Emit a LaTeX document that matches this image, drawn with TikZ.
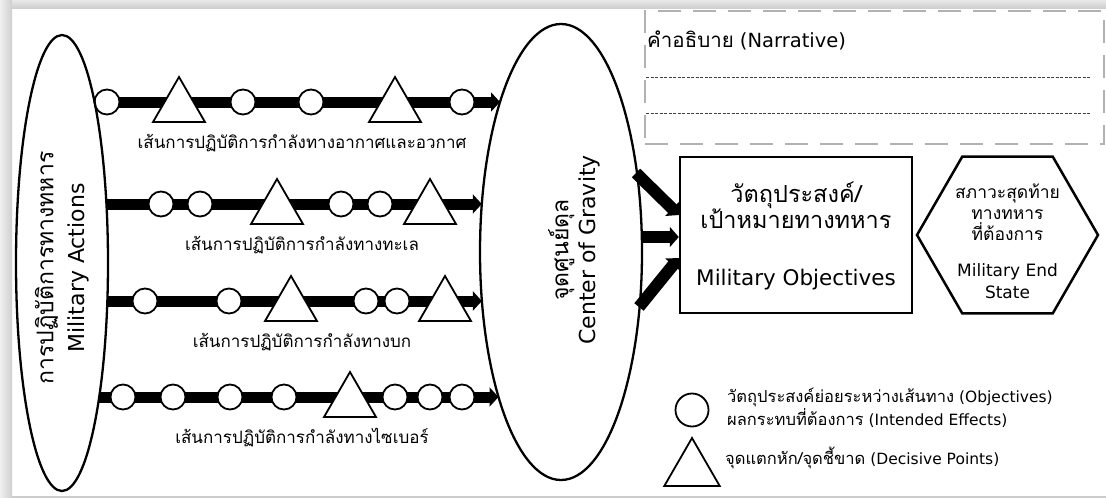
\documentclass[tikz,border=0pt]{standalone}
\usepackage{fontspec}
\setmainfont{DejaVu Sans}
\newfontfamily\thai[Script=Thai]{Loma}
\usetikzlibrary{shapes.geometric,arrows.meta}
\tikzset{
  lane/.style={line width=11pt,-{Triangle[width=19pt,length=9pt]}},
  feed/.style={line width=12pt,-{Triangle[width=20pt,length=9pt]}},
  obj/.style={circle,draw,fill=white,line width=1.8pt,minimum size=25pt,inner sep=0pt},
  dp/.style={regular polygon,regular polygon sides=3,draw,fill=white,line width=1.8pt,minimum size=60pt,inner sep=0pt},
  lanelabel/.style={anchor=base,inner sep=0pt,font=\thai\fontsize{17}{20}\selectfont},
  bigoval/.style={ellipse,draw,line width=2.3pt,inner sep=0pt},
  boxtxt/.style={anchor=base,inner sep=0pt},
  legtxt/.style={anchor=base west,inner sep=0pt,font=\fontsize{15.5}{20}\selectfont},
  narrbox/.style={draw=gray!60,line width=2pt,dash pattern=on 23pt off 12pt,inner sep=0pt},
  narrline/.style={draw=black!75,line width=0.8pt,dash pattern=on 3pt off 1.5pt}
}
\begin{document}
\begin{tikzpicture}[x=1pt,y=-1pt]
\useasboundingbox (0,0) rectangle (1106,498);
% frame shadow
\fill[white] (0,0) rectangle (1106,498);
\shade[left color=gray!12,right color=gray!38] (0,0) rectangle (12,498);
\shade[top color=gray!18,bottom color=gray!38] (12,0) rectangle (1106,8);
\fill[gray!40] (12,495.5) rectangle (1106,498);

% lanes
\coordinate (r1s) at (94.6,102);  \coordinate (r1e) at (500.0,102);
\coordinate (r2s) at (106.4,204); \coordinate (r2e) at (481.8,204);
\coordinate (r3s) at (107.4,301); \coordinate (r3e) at (481.9,301);
\coordinate (r4s) at (99.2,397);  \coordinate (r4e) at (498.5,397);
\draw[lane] (r1s) -- (r1e);
\draw[lane] (r2s) -- (r2e);
\draw[lane] (r3s) -- (r3e);
\draw[lane] (r4s) -- (r4e);

\foreach \x [count=\i] in {107,243,311,462} \node[obj] (r1c\i) at (\x,102) {};
\foreach \x [count=\i] in {179,395} \node[dp] (r1t\i) at (\x,107) {};
\foreach \x [count=\i] in {161,200,341,380} \node[obj] (r2c\i) at (\x,204) {};
\foreach \x [count=\i] in {277,430} \node[dp] (r2t\i) at (\x,209) {};
\foreach \x [count=\i] in {145,229,366,397} \node[obj] (r3c\i) at (\x,301) {};
\foreach \x [count=\i] in {291,445} \node[dp] (r3t\i) at (\x,306) {};
\foreach \x [count=\i] in {123,173,230,284,395,430,462} \node[obj] (r4c\i) at (\x,397) {};
\node[dp] (r4t1) at (350,402) {};

\node[lanelabel] (l1) at (302,148) {เส้นการปฏิบัติการกำลังทางอากาศและอวกาศ};
\node[lanelabel] (l2) at (302,250) {เส้นการปฏิบัติการกำลังทางทะเล};
\node[lanelabel] (l3) at (302,347) {เส้นการปฏิบัติการกำลังทางบก};
\node[lanelabel] (l4) at (302,443) {เส้นการปฏิบัติการกำลังทางไซเบอร์};

% ovals
\node[bigoval,minimum width=456pt,minimum height=92pt,rotate=90] (act) at (62,263) {};
\node[rotate=90,align=center,font=\fontsize{22}{31}\selectfont] (acttxt) at (62,268) {{\thai\fontsize{23}{31}\selectfont การปฏิบัติการทางทหาร}\\Military Actions};
\node[bigoval,minimum width=162pt,minimum height=456pt] (cog) at (561,252) {};
\node[rotate=90,align=center,font=\fontsize{22}{27}\selectfont] (cogtxt) at (574,250) {{\thai\fontsize{23}{27}\selectfont จุดศูนย์ดุล}\\Center of Gravity};

% military objectives
\node[draw,line width=2.5pt,minimum width=232pt,minimum height=156pt,inner sep=0pt] (mo) at (796,235) {};
\node[boxtxt,font=\thai\fontsize{23.5}{28}\selectfont] (mo1) at (796,202) {วัตถุประสงค์/};
\node[boxtxt,font=\thai\fontsize{23.5}{28}\selectfont] (mo2) at (796,228) {เป้าหมายทางทหาร};
\node[boxtxt,font=\fontsize{21.5}{24}\selectfont] (mo3) at (796,285) {Military Objectives};

\coordinate (f1) at (636,173);
\coordinate (f2) at (641.5,237);
\coordinate (f3) at (639,307);
\draw[feed] (f1) -- ([yshift=20pt]mo.west);
\draw[feed] (f2) -- (mo.west |- f2);
\draw[feed] (f3) -- ([yshift=-23pt]mo.west);

% end state
\node[regular polygon,regular polygon sides=6,draw,line width=2.5pt,minimum size=181pt,inner sep=0pt] (es) at (1007.5,235) {};
\node[boxtxt,font=\thai\fontsize{17.5}{21}\selectfont] (es1) at (1007.5,198) {สภาวะสุดท้าย};
\node[boxtxt,font=\thai\fontsize{17.5}{21}\selectfont] (es2) at (1007.5,219) {ทางทหาร};
\node[boxtxt,font=\thai\fontsize{17.5}{21}\selectfont] (es3) at (1007.5,240) {ที่ต้องการ};
\node[boxtxt,font=\fontsize{17}{21}\selectfont] (es4) at (1007.5,276) {Military End};
\node[boxtxt,font=\fontsize{17}{21}\selectfont] (es5) at (1007.5,298) {State};

% narrative
\node[narrbox,minimum width=459pt,minimum height=133pt,anchor=north west] (narr) at (644,10) {};
\node[anchor=base west,inner sep=0pt,font=\fontsize{19.5}{22}\selectfont] (narrt) at (647,47) {{\thai\fontsize{20.5}{22}\selectfont คำอธิบาย} (Narrative)};
\coordinate (n1a) at (646,77);  \coordinate (n1b) at (1090,77);
\coordinate (n2a) at (646,113); \coordinate (n2b) at (1090,113);
\draw[narrline] (n1a) -- (n1b);
\draw[narrline] (n2a) -- (n2b);

% legend
\node[obj,minimum size=33pt] (legc) at (692,410) {};
\node[legtxt] (legc1) at (727,402) {{\thai\fontsize{16.5}{20}\selectfont วัตถุประสงค์ย่อยระหว่างเส้นทาง} (Objectives)};
\node[legtxt] (legc2) at (727,425) {{\thai\fontsize{16.5}{20}\selectfont ผลกระทบที่ต้องการ} (Intended Effects)};
\node[dp,minimum size=64pt] (legt) at (692,470) {};
\node[legtxt] (legt1) at (725,464) {{\thai\fontsize{16.5}{20}\selectfont จุดแตกหัก/จุดชี้ขาด} (Decisive Points)};
\end{tikzpicture}
\end{document}
